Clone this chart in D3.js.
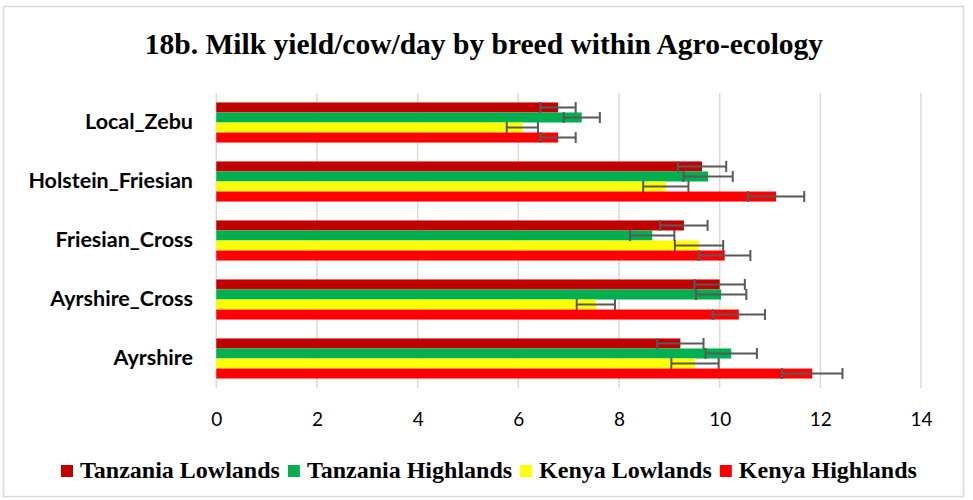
<!DOCTYPE html>
<html>
<head>
<meta charset="utf-8">
<script src="https://cdn.jsdelivr.net/npm/d3@7"></script>
<style>
  body { margin: 0; background: #fff; }
  svg { display: block; }
</style>
</head>
<body>
<svg id="chart" width="973" height="500"></svg>
<script>
// breeds, top to bottom
var breeds = ["Local_Zebu", "Holstein_Friesian", "Friesian_Cross", "Ayrshire_Cross", "Ayrshire"];
var seriesNames = ["Tanzania Lowlands", "Tanzania Highlands", "Kenya Lowlands", "Kenya Highlands"];
var seriesColors = ["#C00000", "#00B050", "#FFFF00", "#FF0000"];

// mean yield per series, same order as breeds
var tzLowlands  = [6.79, 9.65, 9.29, 10.00, 9.22];
var tzHighlands = [7.26, 9.77, 8.66, 10.03, 10.23];
var keLowlands  = [6.08, 8.93, 9.59, 7.54, 9.51];
var keHighlands = [6.79, 11.12, 10.10, 10.38, 11.84];

// error (+/-)
var tzLowlandsErr  = [0.35, 0.48, 0.47, 0.50, 0.46];
var tzHighlandsErr = [0.36, 0.49, 0.44, 0.50, 0.51];
var keLowlandsErr  = [0.31, 0.45, 0.48, 0.38, 0.47];
var keHighlandsErr = [0.35, 0.56, 0.51, 0.52, 0.60];

var xTicks = [0, 2, 4, 6, 8, 10, 12, 14];

var values = [tzLowlands, tzHighlands, keLowlands, keHighlands];
var errors = [tzLowlandsErr, tzHighlandsErr, keLowlandsErr, keHighlandsErr];

var svg = d3.select("#chart");

// outer chart border
svg.append("rect")
  .attr("x", 3.5).attr("y", 6.5)
  .attr("width", 960).attr("height", 490)
  .attr("fill", "#fff")
  .attr("stroke", "#d9d9d9")
  .attr("stroke-width", 1.5);

svg.append("text")
  .attr("x", 484).attr("y", 54)
  .attr("text-anchor", "middle")
  .style("font-family", "'Liberation Serif', 'Times New Roman', serif")
  .style("font-weight", "bold")
  .style("font-size", "29.5px")
  .text("18b. Milk yield/cow/day by breed within Agro-ecology");

var plotTop = 93, plotBottom = 388;

var x = d3.scaleLinear().domain([0, 14]).range([216.3, 921]);

var y = d3.scaleBand()
  .domain(breeds)
  .range([plotTop, plotBottom])
  .paddingInner(0.32)
  .paddingOuter(0.16);

var ySub = d3.scaleBand()
  .domain(d3.range(seriesNames.length))
  .range([0, y.bandwidth()]);

// gridlines
svg.append("g").selectAll("line")
  .data(xTicks)
  .enter().append("line")
  .attr("x1", function(d) { return x(d); })
  .attr("x2", function(d) { return x(d); })
  .attr("y1", plotTop)
  .attr("y2", plotBottom)
  .attr("stroke", "#d9d9d9")
  .attr("stroke-width", 1.5);

// x axis labels
var xAxis = d3.axisBottom(x).tickValues(xTicks).tickSize(0).tickPadding(0);
var xg = svg.append("g")
  .attr("transform", "translate(0," + 412 + ")")
  .call(xAxis);
xg.select(".domain").remove();
xg.selectAll("text")
  .attr("dy", "0.71em")
  .style("font-family", "Lato, 'Open Sans', sans-serif")
  .style("font-size", "19px")
  .attr("fill", "#000");

// y axis labels
var yAxis = d3.axisLeft(y).tickSize(0).tickPadding(0);
var yg = svg.append("g")
  .attr("transform", "translate(193,0)")
  .call(yAxis);
yg.select(".domain").remove();
yg.selectAll("text")
  .style("font-family", "Lato, 'Open Sans', sans-serif")
  .style("font-weight", "bold")
  .style("font-size", "21.5px")
  .attr("fill", "#000");

// bars
var flat = [];
breeds.forEach(function(b, i) {
  seriesNames.forEach(function(s, j) {
    flat.push({ breed: b, s: j, v: values[j][i], e: errors[j][i] });
  });
});

var g = svg.append("g");
g.selectAll("rect.bar")
  .data(flat)
  .enter().append("rect")
  .attr("class", "bar")
  .attr("x", x(0))
  .attr("y", function(d) { return y(d.breed) + ySub(d.s); })
  .attr("width", function(d) { return x(d.v) - x(0); })
  .attr("height", ySub.bandwidth())
  .attr("fill", function(d) { return seriesColors[d.s]; });

// error bars
var eb = g.selectAll("g.err")
  .data(flat)
  .enter().append("g")
  .attr("class", "err")
  .attr("stroke", "#595959")
  .attr("stroke-width", 2);

eb.append("line")
  .attr("x1", function(d) { return x(d.v - d.e); })
  .attr("x2", function(d) { return x(d.v + d.e); })
  .attr("y1", function(d) { return y(d.breed) + ySub(d.s) + ySub.bandwidth() / 2; })
  .attr("y2", function(d) { return y(d.breed) + ySub(d.s) + ySub.bandwidth() / 2; });

[-1, 1].forEach(function(sign) {
  eb.append("line")
    .attr("x1", function(d) { return x(d.v + sign * d.e); })
    .attr("x2", function(d) { return x(d.v + sign * d.e); })
    .attr("y1", function(d) { return y(d.breed) + ySub(d.s) + ySub.bandwidth() / 2 - 5.5; })
    .attr("y2", function(d) { return y(d.breed) + ySub(d.s) + ySub.bandwidth() / 2 + 5.5; });
});

// legend
var legend = svg.append("g");
var lx = 61;
seriesNames.forEach(function(name, j) {
  legend.append("rect")
    .attr("x", lx).attr("y", 465)
    .attr("width", 12).attr("height", 12)
    .attr("fill", seriesColors[j]);
  var t = legend.append("text")
    .attr("x", lx + 19).attr("y", 478)
    .style("font-family", "'Liberation Serif', 'Times New Roman', serif")
    .style("font-weight", "bold")
    .style("font-size", "24px")
    .text(name);
  lx += 19 + t.node().getComputedTextLength() + 8;
});
</script>
</body>
</html>
